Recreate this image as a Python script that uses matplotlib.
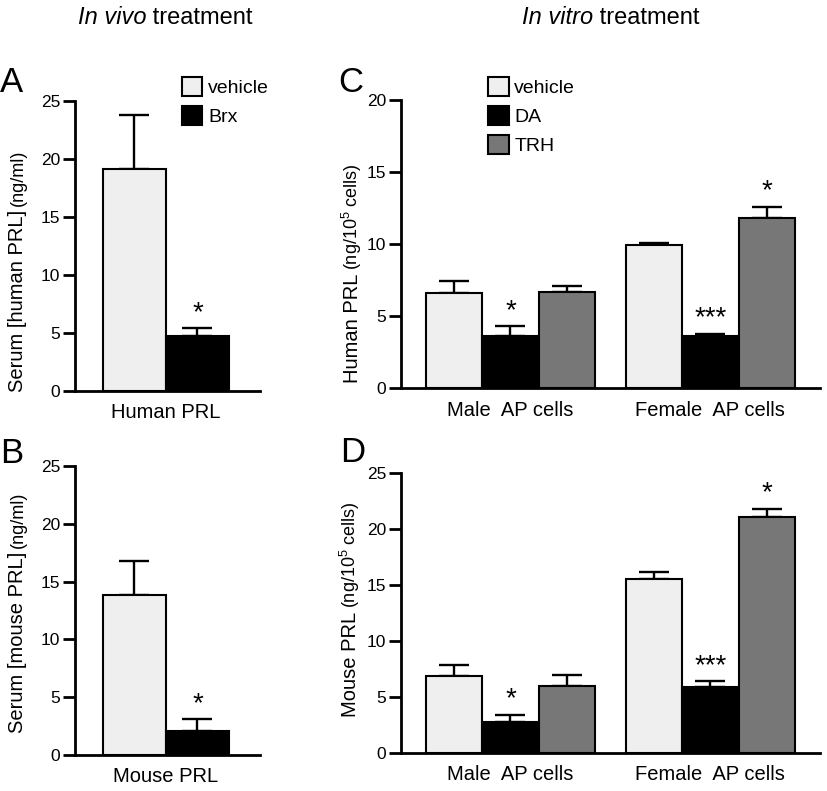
import matplotlib
matplotlib.use('Agg')
import numpy as np
import matplotlib.pyplot as plt
from matplotlib.patches import Patch

plt.rcParams['font.family'] = 'Liberation Sans'
plt.rcParams['mathtext.fontset'] = 'custom'
plt.rcParams['mathtext.rm'] = 'Liberation Sans'
plt.rcParams['mathtext.it'] = 'Liberation Sans:italic'

# In vivo (panels A, B): serum PRL
vivoGroups = ['vehicle', 'Brx']
humanSerum = [19.1, 4.7]
humanSerumSem = [4.7, 0.7]
mouseSerum = [13.8, 2.1]
mouseSerumSem = [3.0, 1.0]
vivoStars = ['', '*']

# In vitro (panels C, D): AP cells
vitroGroups = ['vehicle', 'DA', 'TRH']
cellTypes = ['Male  AP cells', 'Female  AP cells']
humanCells = [[6.6, 3.6, 6.7], [9.9, 3.6, 11.8]]
humanCellsSem = [[0.8, 0.7, 0.4], [0.2, 0.15, 0.8]]
mouseCells = [[6.9, 2.8, 6.0], [15.5, 5.9, 21.1]]
mouseCellsSem = [[1.0, 0.6, 1.0], [0.7, 0.5, 0.7]]
vitroStars = [['', '*', ''], ['', '***', '*']]

W, H = 827, 791
colList = ['#efefef', 'black', '#777777']


def figRect(x0, y0, x1, y1):
    # pixel box (top-left origin) -> figure fraction
    return [x0 / W, 1 - y1 / H, (x1 - x0) / W, (y1 - y0) / H]


def styleAxes(ax, ymax):
    for s in ['top', 'right']:
        ax.spines[s].set_visible(False)
    for s in ['left', 'bottom']:
        ax.spines[s].set_linewidth(2.0)
    ax.set_ylim(0, ymax)
    ax.set_yticks(np.arange(0, ymax + 1, 5))
    ax.tick_params(axis='y', length=8.5, width=2.0, labelsize=12.5, pad=2)
    ax.tick_params(axis='x', length=0, labelsize=14.5, pad=9)


def drawBars(ax, xs, vals, sems, cols, stars):
    ax.bar(xs, vals, width=1.0, color=cols, edgecolor='black',
           linewidth=1.5, zorder=2)
    ax.errorbar(xs, vals, yerr=[np.zeros(len(vals)), sems], fmt='none',
                ecolor='black', elinewidth=1.7, capsize=11, capthick=1.7,
                zorder=1)
    for x, v, e, st in zip(xs, vals, sems, stars):
        if st:
            ax.annotate(st, xy=(x, v + e), xytext=(0, 6),
                        textcoords='offset points', ha='center',
                        va='baseline', fontsize=20)


def yLabel(fig, xBase, yBottom, main, unit):
    t = fig.text(xBase / W, 1 - yBottom / H, main, rotation=90,
                 rotation_mode='anchor', ha='left', va='baseline',
                 fontsize=14.5)
    fig.canvas.draw()
    bb = t.get_window_extent()
    fig.text(xBase / W, (bb.y1 + 4) / H, unit, rotation=90,
             rotation_mode='anchor', ha='left', va='baseline', fontsize=13)


def header(fig, xc, yc, itPart, rest):
    a = fig.text(0, 1 - yc / H, itPart, style='italic', fontsize=17,
                 va='center')
    b = fig.text(0, 1 - yc / H, rest, fontsize=17, va='center')
    fig.canvas.draw()
    wa = a.get_window_extent().width
    wb = b.get_window_extent().width
    x0 = xc - (wa + wb) / 2
    a.set_x(x0 / W)
    b.set_x((x0 + wa) / W)


fig = plt.figure(figsize=(8.27, 7.91), dpi=100)

# Panels A and B
axA = fig.add_axes(figRect(75, 101, 260, 391))
axB = fig.add_axes(figRect(75, 466, 260, 755))
xsVivo = np.arange(len(vivoGroups))
for ax, vals, sems, lab in [(axA, humanSerum, humanSerumSem, 'Human PRL'),
                            (axB, mouseSerum, mouseSerumSem, 'Mouse PRL')]:
    styleAxes(ax, 25)
    drawBars(ax, xsVivo, vals, sems, colList[:2], vivoStars)
    ax.set_xlim(-0.944, 1.992)
    ax.set_xticks([0.5])
    ax.set_xticklabels([lab])

axA.legend(handles=[Patch(facecolor=colList[i], edgecolor='black',
                          linewidth=1.5, label=vivoGroups[i])
                    for i in range(2)],
           loc='upper left', bbox_to_anchor=(182 / W, 1 - 77 / H),
           bbox_transform=fig.transFigure, frameon=False, borderpad=0,
           borderaxespad=0, handlelength=1.05, handleheight=1.15,
           handletextpad=0.3, labelspacing=0.45, fontsize=14)

# Panels C and D
axC = fig.add_axes(figRect(401, 100, 820, 388))
axD = fig.add_axes(figRect(401, 473, 820, 753))
groupGap = 3.54
for ax, vals, sems, ymax in [(axC, humanCells, humanCellsSem, 20),
                             (axD, mouseCells, mouseCellsSem, 25)]:
    styleAxes(ax, ymax)
    for g in range(len(cellTypes)):
        xs = g * groupGap + np.arange(len(vitroGroups))
        drawBars(ax, xs, vals[g], sems[g], colList, vitroStars[g])
    ax.set_xlim(-0.938, 6.48)
    ax.set_xticks([g * groupGap + 1 for g in range(len(cellTypes))])
    ax.set_xticklabels(cellTypes)

axC.legend(handles=[Patch(facecolor=colList[i], edgecolor='black',
                          linewidth=1.5, label=vitroGroups[i])
                    for i in range(3)],
           loc='upper left', bbox_to_anchor=(488 / W, 1 - 77 / H),
           bbox_transform=fig.transFigure, frameon=False, borderpad=0,
           borderaxespad=0, handlelength=1.1, handleheight=1.15,
           handletextpad=0.25, labelspacing=0.45, fontsize=14)

# Axis titles
yLabel(fig, 23, 392, 'Serum [human PRL]', '(ng/ml)')
yLabel(fig, 23, 733, 'Serum [mouse PRL]', '(ng/ml)')
yLabel(fig, 358, 383, 'Human PRL', '(ng/10$^{5}$ cells)')
yLabel(fig, 356, 717, 'Mouse PRL', '(ng/10$^{5}$ cells)')

# Panel letters
for lx, ly, letter in [(0, 92, 'A'), (0, 463, 'B'), (338, 92, 'C'),
                       (340, 462, 'D')]:
    fig.text(lx / W, 1 - ly / H, letter, fontsize=25, va='baseline')

header(fig, 165, 18, 'In vivo', ' treatment')
header(fig, 611, 18, 'In vitro', ' treatment')

fig.savefig('out.png', dpi=100)
